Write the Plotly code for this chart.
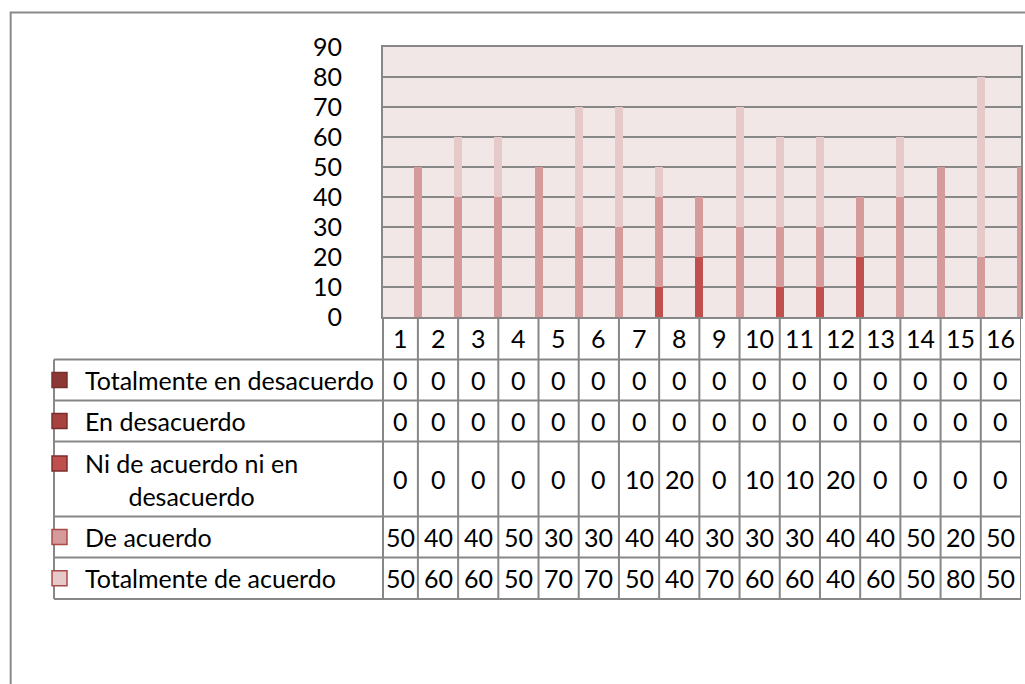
import plotly.graph_objects as go

# ---------------- data ----------------
categories = list(range(1, 17))
series_names = [
    "Totalmente en desacuerdo",
    "En desacuerdo",
    "Ni de acuerdo ni en desacuerdo",
    "De acuerdo",
    "Totalmente de acuerdo",
]
totalmente_en_desacuerdo = [0, 0, 0, 0, 0, 0, 0, 0, 0, 0, 0, 0, 0, 0, 0, 0]
en_desacuerdo = [0, 0, 0, 0, 0, 0, 0, 0, 0, 0, 0, 0, 0, 0, 0, 0]
ni_de_acuerdo = [0, 0, 0, 0, 0, 0, 10, 20, 0, 10, 10, 20, 0, 0, 0, 0]
de_acuerdo = [50, 40, 40, 50, 30, 30, 40, 40, 30, 30, 30, 40, 40, 50, 20, 50]
totalmente_de_acuerdo = [50, 60, 60, 50, 70, 70, 50, 40, 70, 60, 60, 40, 60, 50, 80, 50]
y_ticks = [0, 10, 20, 30, 40, 50, 60, 70, 80, 90]

series_values = [
    totalmente_en_desacuerdo,
    en_desacuerdo,
    ni_de_acuerdo,
    de_acuerdo,
    totalmente_de_acuerdo,
]
series_colors = ["#8C3836", "#A8423F", "#C0504D", "#D49B9A", "#E6C9C9"]
legend_labels = [
    "Totalmente en desacuerdo",
    "En desacuerdo",
    "Ni de acuerdo ni en<br>desacuerdo",
    "De acuerdo",
    "Totalmente de acuerdo",
]

# ---------------- layout geometry (page pixels) ----------------
W, H = 1025, 684
PL, PR, PT, PB = 383, 1023, 47, 317  # plot area in page pixels
X0, X1 = 0.632, 16.5
FONT = "Lato"
FS = 25
GRID = "#878787"


def xp(px):
    return (px - PL) / (PR - PL)


def yp(py):
    return (PB - py) / (PB - PT)


fig = go.Figure()
bw = 0.2
draw_order = [4, 3, 2, 1, 0]
for i in draw_order:
    fig.add_trace(go.Bar(
        x=categories,
        y=series_values[i],
        name=series_names[i],
        marker=dict(color=series_colors[i], line=dict(width=0)),
        width=bw,
        offset=0.5 - bw / 2,
        showlegend=False,
    ))

shapes = []
annotations = []

# outer chart border
shapes.append(dict(type="rect", xref="paper", yref="paper",
                   x0=xp(9.5), x1=xp(1040), y0=yp(12.5), y1=yp(700),
                   line=dict(color="#8A8A8A", width=2), fillcolor="rgba(0,0,0,0)",
                   layer="below"))

# table rows (pixel y boundaries)
row_edges = [PB, 359.5, 400.5, 441.5, 516.5, 557.5, 599]
TL = 53
for py in row_edges[1:]:
    shapes.append(dict(type="line", xref="paper", yref="paper",
                       x0=xp(TL), x1=xp(PR), y0=yp(py), y1=yp(py),
                       line=dict(color=GRID, width=2)))
shapes.append(dict(type="line", xref="paper", yref="paper",
                   x0=xp(TL), x1=xp(TL), y0=yp(row_edges[1]), y1=yp(row_edges[-1]),
                   line=dict(color=GRID, width=2)))
shapes.append(dict(type="line", xref="paper", yref="paper",
                   x0=0, x1=0, y0=yp(PB), y1=yp(row_edges[-1]),
                   line=dict(color=GRID, width=2)))
for c in categories:
    shapes.append(dict(type="line", xref="x", yref="paper",
                       x0=c + 0.5, x1=c + 0.5, y0=yp(PB), y1=yp(row_edges[-1]),
                       line=dict(color=GRID, width=2)))

# cell centers
centers = []
for c in categories:
    left = max(c - 0.5, X0)
    right = min(c + 0.5, X1)
    centers.append((left + right) / 2)

# header row
hy = yp((row_edges[0] + row_edges[1]) / 2)
for c, cx in zip(categories, centers):
    annotations.append(dict(x=cx, y=hy, xref="x", yref="paper", text=str(c),
                            showarrow=False, xanchor="center", yanchor="middle",
                            font=dict(family=FONT, size=FS, color="black")))

# data rows
for r, (lab, vals, col) in enumerate(zip(legend_labels, series_values, series_colors)):
    top, bot = row_edges[r + 1], row_edges[r + 2]
    cy = (top + bot) / 2
    for cx, v in zip(centers, vals):
        annotations.append(dict(x=cx, y=yp(cy), xref="x", yref="paper", text=str(v),
                                showarrow=False, xanchor="center", yanchor="middle",
                                font=dict(family=FONT, size=FS, color="black")))
    annotations.append(dict(x=xp(82), y=yp(cy), xref="paper", yref="paper", text=lab,
                            showarrow=False, xanchor="left", yanchor="middle", align="center",
                            font=dict(family=FONT, size=FS, color="black")))
    mk = "#7A2E2C" if r < 3 else "#A84A48"
    sq_y = cy if r != 2 else (top + 22)
    shapes.append(dict(type="rect", xref="paper", yref="paper",
                       x0=xp(51), x1=xp(66), y0=yp(sq_y - 7.5), y1=yp(sq_y + 7.5),
                       fillcolor=col, line=dict(color=mk, width=1.5)))

fig.update_layout(
    width=W, height=H,
    margin=dict(l=PL, r=W - PR, t=PT, b=H - PB, pad=0),
    paper_bgcolor="white",
    plot_bgcolor="#F2E7E7",
    barmode="overlay",
    bargap=0,
    font=dict(family=FONT, size=FS, color="black"),
    xaxis=dict(range=[X0, X1], showticklabels=False, ticks="", showgrid=False,
               zeroline=False, showline=True, linecolor=GRID, linewidth=2, mirror=True),
    yaxis=dict(range=[0, 90], tickvals=y_ticks, ticktext=[str(t) for t in y_ticks],
               showgrid=True, gridcolor=GRID, gridwidth=2, zeroline=False,
               showline=True, linecolor=GRID, linewidth=2, mirror=True,
               ticks="", ticklabelstandoff=34,
               tickfont=dict(family=FONT, size=FS, color="black")),
    shapes=shapes,
    annotations=annotations,
)

fig.write_html(
    "out.html",
    config={"displayModeBar": False},
    post_script="document.body.style.margin='0';document.body.style.overflow='hidden';",
)
